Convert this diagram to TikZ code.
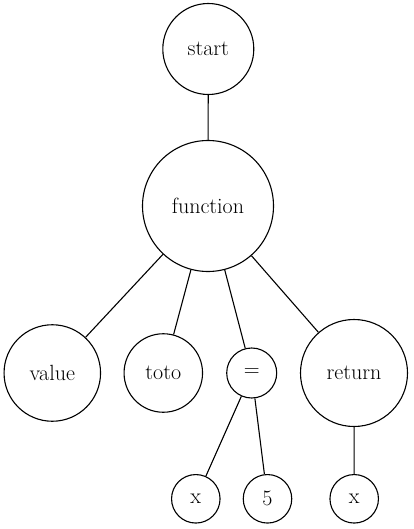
\documentclass[tikz,border=0pt]{standalone}
\begin{document}
\begin{tikzpicture}[x=1pt,y=-1pt,
  nd/.style={circle,draw,line width=1.1pt,inner sep=0pt,font=\fontsize{22}{26}\selectfont},
  edge/.style={line width=1.1pt}]
\useasboundingbox (0,0) rectangle (413,529);
\node[nd,minimum size=91pt] (start) at (208.3,49) {start};
\node[nd,minimum size=131pt] (function) at (208,206) {function};
\node[nd,minimum size=96.5pt] (value) at (52.3,373) {value};
\node[nd,minimum size=78.5pt] (toto) at (163.3,373) {toto};
\node[nd,minimum size=50pt] (eq) at (251.7,373) {=};
\node[nd,minimum size=107pt] (return) at (354,373) {return};
\node[nd,minimum size=48.5pt] (x1) at (195.8,498.8) {x};
\node[nd,minimum size=48.5pt] (five) at (267.5,498.8) {5};
\node[nd,minimum size=48.5pt] (x2) at (354.2,498.8) {x};
\draw[edge] (start) -- (function);
\draw[edge] (function) -- (value);
\draw[edge] (function) -- (toto);
\draw[edge] (function) -- (eq);
\draw[edge] (function) -- (return);
\draw[edge] (eq) -- (x1);
\draw[edge] (eq) -- (five);
\draw[edge] (return) -- (x2);
\end{tikzpicture}
\end{document}
